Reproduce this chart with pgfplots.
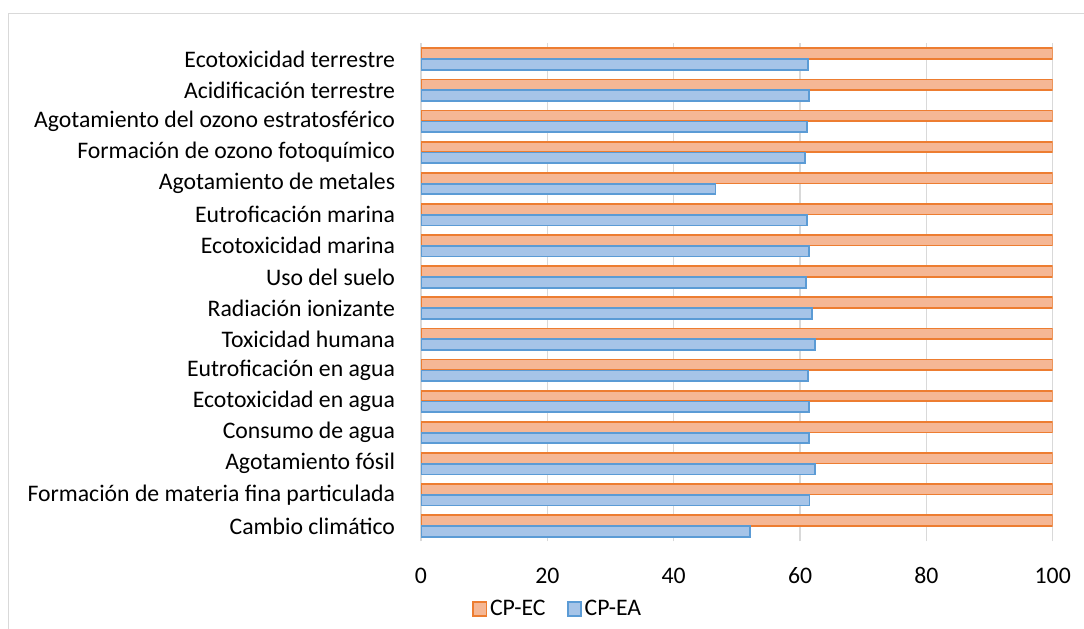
\documentclass[border=0pt]{standalone}
\usepackage{fontspec}
\setmainfont{Carlito}
\usepackage{pgfplots}
\pgfplotsset{compat=1.18}
\definecolor{orfill}{HTML}{F5B795}
\definecolor{ordraw}{HTML}{ED7D31}
\definecolor{blfill}{HTML}{A6C4E8}
\definecolor{bldraw}{HTML}{5B9BD5}
\definecolor{gridc}{HTML}{D9D9D9}
\begin{document}
\begin{tikzpicture}
\path[use as bounding box] (0,0) rectangle (813pt,471pt);
\draw[gridc, line width=0.75pt] (6pt,-5pt) rectangle (830pt,460.5pt);
\begin{axis}[
  at={(315.75pt,64.9pt)}, anchor=south west,
  scale only axis, width=473.8pt, height=373.5pt,
  xbar, bar width=0.34,
  xmin=0, xmax=100, ymin=-0.5, ymax=15.5,
  xtick={0,20,...,100}, ytick={0,...,15},
  yticklabels={Cambio climático, Formación de materia fina particulada, Agotamiento fósil, Consumo de agua, Ecotoxicidad en agua, Eutroficación en agua, Toxicidad humana, Radiación ionizante, Uso del suelo, Ecotoxicidad marina, Eutroficación marina, Agotamiento de metales, Formación de ozono fotoquímico, Agotamiento del ozono estratosférico, Acidificación terrestre, Ecotoxicidad terrestre},
  axis line style={draw=none},
  tick style={draw=none},
  xmajorgrids, major grid style={gridc, line width=1.1pt},
  /pgf/number format/assume math mode=true,
  tick label style={font=\fontsize{17.8}{20}\selectfont},
  xticklabel style={inner sep=0pt, anchor=north, yshift=-19.5pt},
  yticklabel style={inner sep=0pt, anchor=east, xshift=-15pt},
  legend style={at={(0.217,-0.1356)}, anchor=center, draw=none, fill=none,
    legend columns=2, font=\fontsize{17.8}{20}\selectfont,
    /tikz/every even column/.append style={column sep=14pt}},
  legend image code/.code={\draw[#1, line width=1.3pt] (0pt,-5.2pt) rectangle (10pt,5.2pt);},
]
\addplot[fill=orfill, draw=ordraw, line width=1.3pt, bar shift=0.175] coordinates {
(100,0) (100,1) (100,2) (100,3) (100,4) (100,5) (100,6) (100,7)
(100,8) (100,9) (100,10) (100,11) (100,12) (100,13) (100,14) (100,15)};
\addlegendentry{CP-EC}
\addplot[fill=blfill, draw=bldraw, line width=1.3pt, bar shift=-0.175] coordinates {
(52.1,0) (61.5,1) (62.4,2) (61.4,3) (61.4,4) (61.3,5) (62.4,6) (61.95,7)
(61.0,8) (61.4,9) (61.15,10) (46.6,11) (60.8,12) (61.06,13) (61.4,14) (61.3,15)};
\addlegendentry{CP-EA}
\end{axis}
\end{tikzpicture}
\end{document}
